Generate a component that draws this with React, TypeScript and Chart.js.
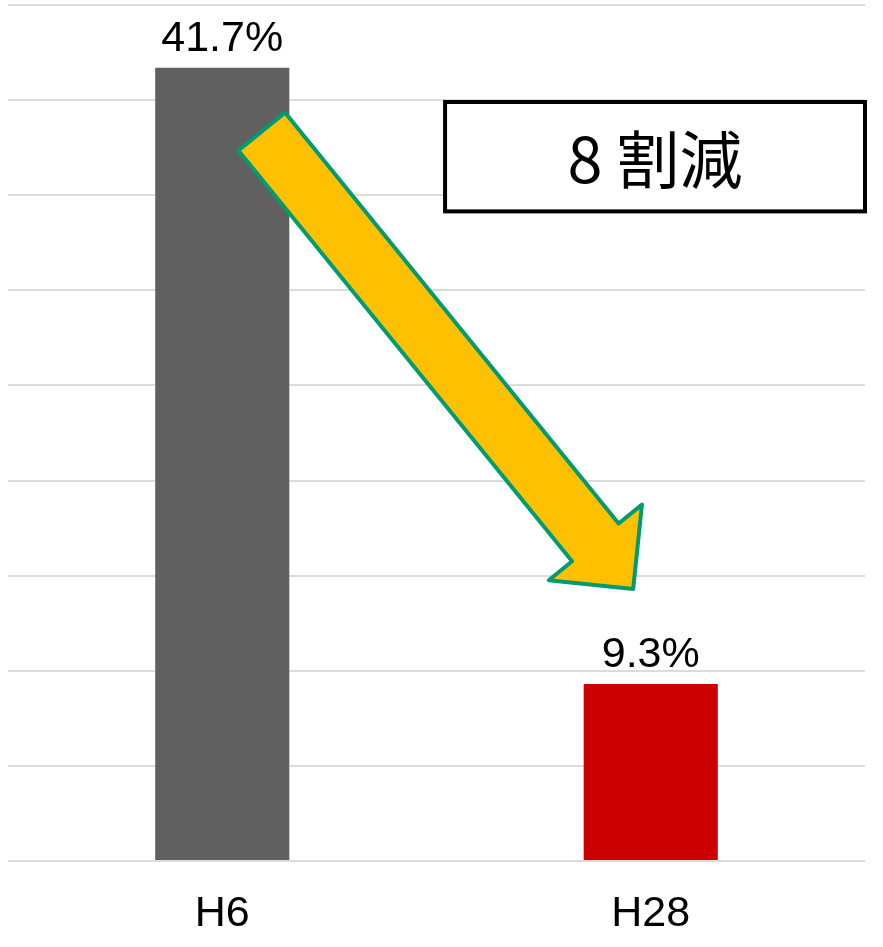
import React, { useEffect, useRef } from 'react';
import { Chart, registerables } from 'chart.js';

Chart.register(...registerables);

// ---- data ----
const categories = ['H6', 'H28'];
const values = [41.7, 9.3];
const valueLabels = ['41.7%', '9.3%'];
const barColors = ['#606060', '#CC0000'];
const yMin = 0;
const yMax = 45;
const yStep = 5;

// ---- annotations (data coordinates: category index, value) ----
const arrowFrom = { x: 0.092, y: 38.35 };
const arrowTo = { x: 0.959, y: 14.3 };
const boxRange = { xMin: 0.52, xMax: 1.5, yMin: 34.15, yMax: 39.9 };
const boxText = '8 割減';

const FONT = '"Liberation Sans", Arial, "Noto Sans CJK JP", sans-serif';

const overlayPlugin = {
  id: 'overlay',
  afterDatasetsDraw(chart: any) {
    const ctx = chart.ctx as CanvasRenderingContext2D;
    const xs = chart.scales.x;
    const ys = chart.scales.y;
    const meta = chart.getDatasetMeta(0);

    ctx.save();
    // value labels above bars
    ctx.fillStyle = '#000';
    ctx.font = `43px ${FONT}`;
    ctx.textAlign = 'center';
    ctx.textBaseline = 'alphabetic';
    meta.data.forEach((bar: any, i: number) => {
      ctx.fillText(valueLabels[i], bar.x, bar.y - 17);
    });

    // arrow
    const x0 = xs.getPixelForValue(arrowFrom.x);
    const y0 = ys.getPixelForValue(arrowFrom.y);
    const x1 = xs.getPixelForValue(arrowTo.x);
    const y1 = ys.getPixelForValue(arrowTo.y);
    const dx = x1 - x0;
    const dy = y1 - y0;
    const len = Math.hypot(dx, dy);
    const ux = dx / len;
    const uy = dy / len;
    const nx = uy;
    const ny = -ux;
    const sw = 30;
    const hw = 60;
    const hl = 60;
    const bx = x1 - ux * hl;
    const by = y1 - uy * hl;
    const pts = [
      [x0 + nx * sw, y0 + ny * sw],
      [bx + nx * sw, by + ny * sw],
      [bx + nx * hw, by + ny * hw],
      [x1, y1],
      [bx - nx * hw, by - ny * hw],
      [bx - nx * sw, by - ny * sw],
      [x0 - nx * sw, y0 - ny * sw],
    ];
    ctx.beginPath();
    pts.forEach(([px, py], i) => (i === 0 ? ctx.moveTo(px, py) : ctx.lineTo(px, py)));
    ctx.closePath();
    ctx.fillStyle = '#FFC000';
    ctx.fill();
    ctx.lineWidth = 4;
    ctx.lineJoin = 'round';
    ctx.strokeStyle = '#009B72';
    ctx.stroke();

    // box
    const bl = xs.getPixelForValue(boxRange.xMin);
    const br = xs.getPixelForValue(boxRange.xMax);
    const bt = ys.getPixelForValue(boxRange.yMax);
    const bb = ys.getPixelForValue(boxRange.yMin);
    ctx.fillStyle = '#fff';
    ctx.fillRect(bl, bt, br - bl, bb - bt);
    ctx.lineWidth = 4;
    ctx.lineJoin = 'miter';
    ctx.strokeStyle = '#000';
    ctx.strokeRect(bl, bt, br - bl, bb - bt);
    ctx.fillStyle = '#000';
    ctx.font = `63px "Noto Sans CJK JP", sans-serif`;
    ctx.textAlign = 'center';
    ctx.textBaseline = 'middle';
    ctx.fillText(boxText, (bl + br) / 2, (bt + bb) / 2 + 2);
    ctx.restore();
  },
};

export default function App() {
  const canvasRef = useRef<HTMLCanvasElement | null>(null);

  useEffect(() => {
    if (!canvasRef.current) return;
    const chart = new Chart(canvasRef.current, {
      type: 'bar',
      data: {
        labels: categories,
        datasets: [
          {
            data: values,
            backgroundColor: barColors,
            borderWidth: 0,
            barPercentage: 0.313,
            categoryPercentage: 1,
          },
        ],
      },
      options: {
        animation: false,
        responsive: true,
        maintainAspectRatio: false,
        layout: { padding: { left: 8, right: 18, top: 5, bottom: 0 } },
        plugins: {
          legend: { display: false },
          tooltip: { enabled: false },
          title: { display: false },
        },
        scales: {
          x: {
            grid: { display: false, drawTicks: false },
            border: { display: false },
            ticks: {
              color: '#000',
              padding: 27,
              font: { family: FONT, size: 43 },
            },
            afterFit: (scale: any) => {
              scale.height = 86;
            },
          },
          y: {
            min: yMin,
            max: yMax,
            ticks: { display: false, stepSize: yStep },
            border: { display: false },
            grid: { color: '#dcdcdc', lineWidth: 2, drawTicks: false },
          },
        },
      },
      plugins: [overlayPlugin],
    });
    return () => chart.destroy();
  }, []);

  return (
    <div style={{ position: 'absolute', left: 0, top: 0, width: 883, height: 947 }}>
      <canvas ref={canvasRef} />
    </div>
  );
}
